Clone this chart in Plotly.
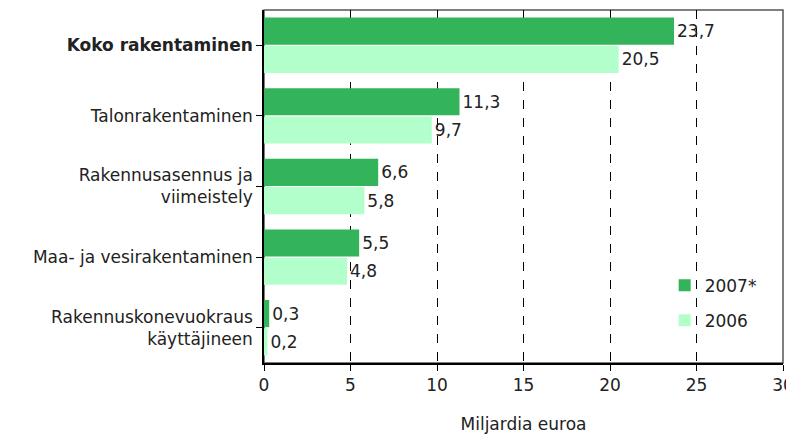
import plotly.graph_objects as go

# toimialat (ylhäältä alas)
categories = [
    "<b>Koko rakentaminen</b>",
    "Talonrakentaminen",
    "Rakennusasennus ja<br>viimeistely",
    "Maa- ja vesirakentaminen",
    "Rakennuskonevuokraus<br>käyttäjineen",
]
values_2007 = [23.7, 11.3, 6.6, 5.5, 0.3]
values_2006 = [20.5, 9.7, 5.8, 4.8, 0.2]
x_ticks = [0, 5, 10, 15, 20, 25, 30]

font_family = "DejaVu Sans"

fig = go.Figure()

fig.add_trace(go.Bar(
    y=categories,
    x=values_2007,
    name="2007*",
    orientation="h",
    marker=dict(color="#33b35a", line=dict(width=0)),
    texttemplate="%{x:.1f}",
    textposition="outside",
    textfont=dict(size=17, color="#222222", family=font_family),
    cliponaxis=False,
    legendgroup="a",
))

fig.add_trace(go.Bar(
    y=categories,
    x=values_2006,
    name="2006",
    orientation="h",
    marker=dict(color="#b3ffcc", line=dict(width=0)),
    texttemplate="%{x:.1f}",
    textposition="outside",
    textfont=dict(size=17, color="#222222", family=font_family),
    cliponaxis=False,
    legendgroup="b",
))

# harmaa kehys piirtoalueen ympärille
fig.add_shape(
    type="rect", xref="x domain", yref="y domain",
    x0=0, x1=1, y0=0, y1=1,
    line=dict(color="#555555", width=1.5), layer="below",
)

# sivun body-marginaali (8 px) huomioitu koossa ja marginaaleissa
fig.update_layout(
    width=786,
    height=426,
    margin=dict(l=256, r=11, t=2, b=71),
    paper_bgcolor="white",
    plot_bgcolor="white",
    separators=", ",
    barmode="group",
    bargap=0.2,
    bargroupgap=0.04,
    font=dict(family=font_family, size=17, color="#222222"),
    showlegend=True,
    legend=dict(
        x=0.772, y=0.27, xanchor="left", yanchor="top",
        bgcolor="rgba(0,0,0,0)",
        font=dict(size=17),
        tracegroupgap=10,
        itemwidth=30,
    ),
    xaxis=dict(
        range=[0, 30],
        tickvals=x_ticks,
        automargin=False,
        showgrid=True,
        gridcolor="black",
        griddash="dash",
        gridwidth=1,
        zeroline=False,
        showline=True,
        linecolor="black",
        linewidth=1.5,
        ticks="outside",
        ticklen=6,
        tickcolor="black",
        title=dict(text="Miljardia euroa", standoff=26, font=dict(size=17)),
        tickfont=dict(size=17),
    ),
    yaxis=dict(
        autorange="reversed",
        automargin=False,
        showgrid=False,
        showline=True,
        linecolor="black",
        linewidth=1.5,
        ticks="outside",
        ticklen=6,
        tickcolor="black",
        ticklabelstandoff=0,
        tickfont=dict(size=17),
    ),
)

fig.write_html("out.html")
